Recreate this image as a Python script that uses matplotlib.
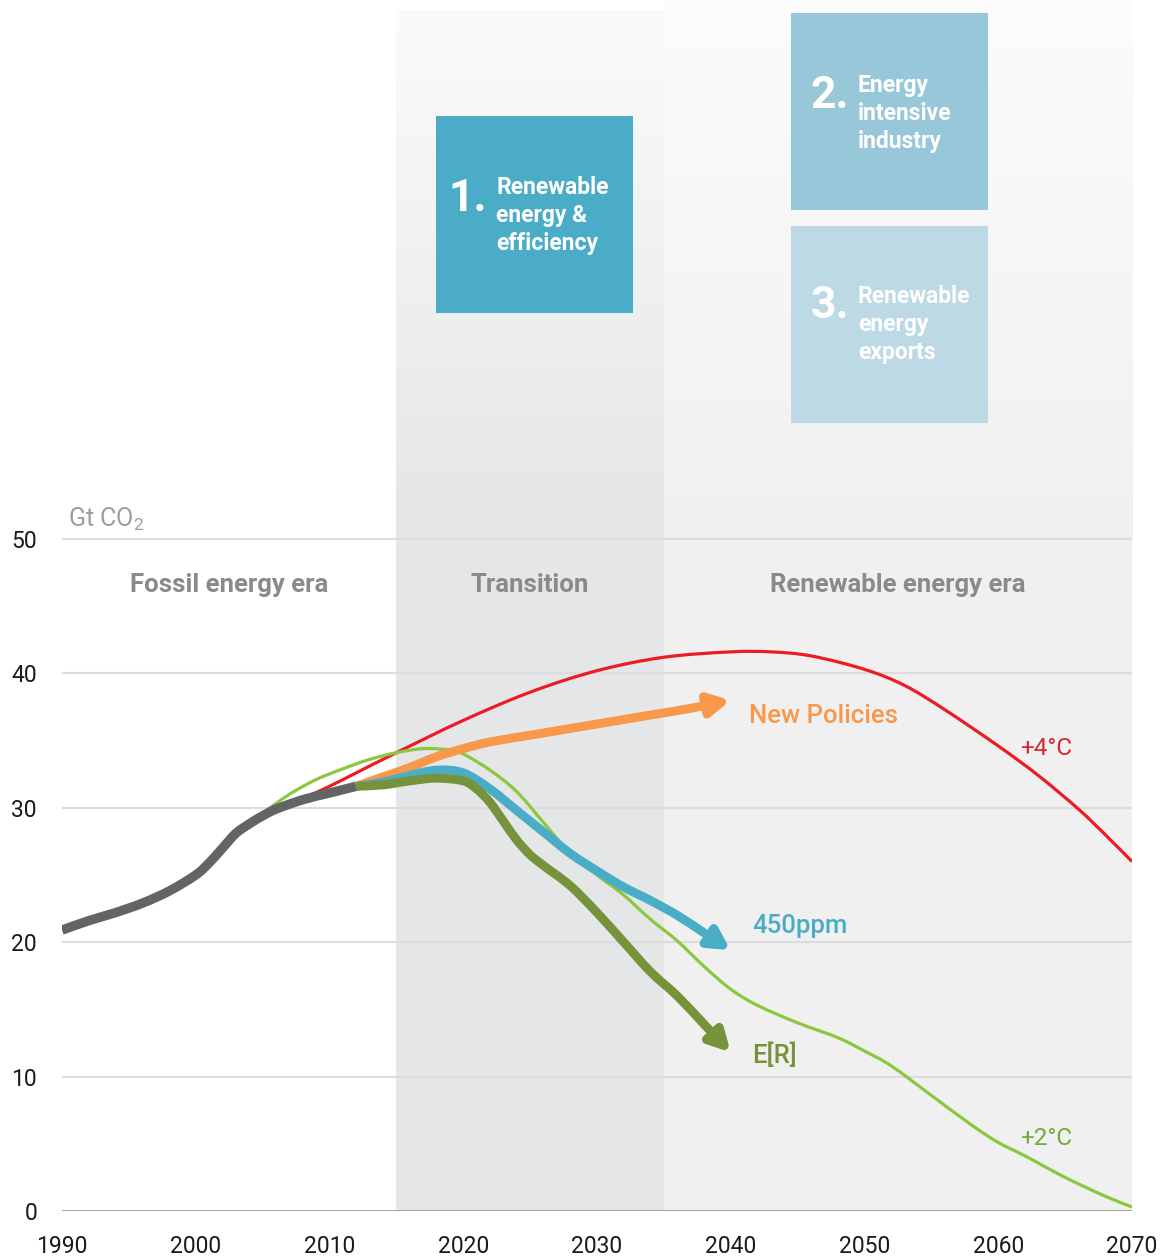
import numpy as np
import matplotlib.pyplot as plt
from matplotlib.colors import LinearSegmentedColormap
from matplotlib.patches import FancyArrowPatch, PathPatch, Rectangle
from matplotlib.path import Path

plt.rcParams["font.family"] = ["Roboto", "DejaVu Sans"]
plt.rcParams["mathtext.fontset"] = "custom"
plt.rcParams["mathtext.rm"] = "Roboto"

# Historic emissions (Gt CO2)
hist_years = [1990, 1992, 1994, 1996, 1998, 2000, 2001, 2002, 2003, 2004, 2005, 2006, 2008, 2010, 2012]
hist_co2 = [20.9, 21.6, 22.2, 22.9, 23.8, 25.0, 25.9, 27.0, 28.1, 28.8, 29.4, 29.9, 30.6, 31.1, 31.6]

# +4°C pathway
plus4_years = [2000, 2002, 2004, 2006, 2008, 2010, 2012, 2015, 2020, 2025, 2030, 2035, 2040, 2043,
               2046, 2050, 2053, 2056, 2060, 2063, 2066, 2068, 2070]
plus4_co2 = [25.0, 27.2, 29.0, 30.0, 30.7, 31.6, 32.6, 34.1, 36.5, 38.6, 40.2, 41.2, 41.6, 41.6,
             41.3, 40.3, 39.1, 37.3, 34.6, 32.4, 29.9, 28.0, 26.0]

# +2°C pathway
plus2_years = [2005, 2007, 2009, 2011, 2013, 2015, 2017, 2019, 2020, 2022, 2024, 2026, 2028, 2030,
               2032, 2034, 2036, 2038, 2040, 2042, 2045, 2048, 2050, 2052, 2055, 2058, 2060, 2062,
               2065, 2068, 2070]
plus2_co2 = [29.6, 31.0, 32.1, 32.9, 33.6, 34.1, 34.4, 34.3, 34.0, 32.8, 31.2, 28.9, 26.6, 25.0,
             23.5, 21.7, 20.1, 18.2, 16.5, 15.3, 14.0, 12.9, 11.9, 10.8, 8.6, 6.4, 5.1, 4.1,
             2.5, 1.1, 0.3]

# Scenario arrows
newpol_years = [2012, 2014, 2016, 2018, 2020, 2022, 2025, 2028, 2031, 2034, 2037, 2040]
newpol_co2 = [31.6, 32.3, 33.0, 33.8, 34.4, 34.9, 35.4, 35.9, 36.4, 36.9, 37.4, 38.0]

ppm450_years = [2012, 2014, 2016, 2018, 2020, 2022, 2024, 2026, 2028, 2030, 2032, 2034, 2036, 2038, 2040]
ppm450_co2 = [31.6, 31.9, 32.4, 32.8, 32.6, 31.4, 29.8, 28.2, 26.6, 25.3, 24.1, 23.1, 22.0, 20.7, 19.4]

er_years = [2012, 2014, 2016, 2018, 2020, 2021, 2022, 2023, 2024, 2025, 2026, 2028, 2030, 2032,
            2034, 2036, 2038, 2040]
er_co2 = [31.6, 31.7, 32.0, 32.2, 32.0, 31.4, 30.4, 29.0, 27.6, 26.5, 25.7, 24.2, 22.2, 20.0,
          17.8, 16.0, 13.9, 11.8]

era_names = ["Fossil energy era", "Transition", "Renewable energy era"]
era_bounds = [1990, 2015, 2035, 2070]

y_ticks = [0, 10, 20, 30, 40, 50]
x_ticks = list(range(1990, 2071, 10))

step_numbers = ["1.", "2.", "3."]
step_texts = [["Renewable", "energy &", "efficiency"],
              ["Energy", "intensive", "industry"],
              ["Renewable", "energy", "exports"]]


def smooth_path(xs, ys):
    """Catmull-Rom curve through the points, as cubic Bezier segments."""
    pts = np.column_stack([xs, ys]).astype(float)
    ext = np.vstack([pts[0], pts, pts[-1]])
    verts = [pts[0]]
    codes = [Path.MOVETO]
    for i in range(len(pts) - 1):
        p0, p1, p2, p3 = ext[i], ext[i + 1], ext[i + 2], ext[i + 3]
        verts += [p1 + (p2 - p0) / 6, p2 - (p3 - p1) / 6, p2]
        codes += [Path.CURVE4] * 3
    return Path(verts, codes)


def curve(ax, xs, ys, color, lw, zorder):
    ax.add_patch(PathPatch(smooth_path(xs, ys), fill=False, edgecolor=color, lw=lw,
                           capstyle="butt", joinstyle="round", zorder=zorder))


def arrow_line(ax, xs, ys, color):
    arrow = FancyArrowPatch(path=smooth_path(xs, ys),
                            arrowstyle="-|>,head_length=0.6,head_width=0.32",
                            mutation_scale=20, lw=6.4, color=color,
                            joinstyle="round", capstyle="butt", zorder=5)
    ax.add_patch(arrow)


def gradient_band(ax, x0, x1, y0, y1, bottom_color, top_color):
    cmap = LinearSegmentedColormap.from_list("band", [bottom_color, top_color])
    grad = np.linspace(0, 1, 256).reshape(-1, 1)
    ax.imshow(grad, cmap=cmap, extent=(x0, x1, y0, y1), origin="lower",
              aspect="auto", interpolation="bicubic", zorder=0)


def main() -> None:
    fig = plt.figure(figsize=(11.61, 12.58), dpi=100)
    ax = fig.add_axes([62 / 1161, 47 / 1258, 1070 / 1161, 1211 / 1258])
    ymax = 90.1

    # era backgrounds: flat inside the chart, fading out above it
    ax.axvspan(era_bounds[1], era_bounds[2], 0, 50 / ymax, color="#e5e6e8", lw=0, zorder=0)
    ax.axvspan(era_bounds[2], era_bounds[3], 0, 50 / ymax, color="#f0f0f0", lw=0, zorder=0)
    gradient_band(ax, era_bounds[1], era_bounds[2], 50, 89.3, "#e4e5e7", "#fbfbfb")
    gradient_band(ax, era_bounds[2], era_bounds[3], 50, ymax, "#f0f0f0", "#fcfcfc")

    for y in y_ticks[1:]:
        ax.axhline(y, color="#dcdcdc", lw=1.5, zorder=1)
    ax.axhline(0, color="#9a9a9a", lw=2, zorder=1)

    curve(ax, plus4_years, plus4_co2, "#ed1c24", 2.3, 2)
    curve(ax, plus2_years, plus2_co2, "#8dc63f", 2.3, 2)
    curve(ax, hist_years, hist_co2, "#636466", 6.8, 3)
    arrow_line(ax, newpol_years, newpol_co2, "#f7984a")
    arrow_line(ax, ppm450_years, ppm450_co2, "#4aadc6")
    arrow_line(ax, er_years, er_co2, "#76923b")

    # series labels
    ax.text(2041.4, 36.8, "New Policies", color="#f7984a", fontsize=18.5,
            fontweight="medium", va="center", zorder=6)
    ax.text(2041.6, 21.2, "450ppm", color="#4aadc6", fontsize=18.5,
            fontweight="medium", va="center", zorder=6)
    ax.text(2041.6, 11.6, "E[R]", color="#76923b", fontsize=18.5,
            fontweight="medium", va="center", zorder=6)
    ax.text(2061.6, 34.4, "+4°C", color="#d7282f", fontsize=17.5, va="center", zorder=6)
    ax.text(2061.6, 5.4, "+2°C", color="#77a83c", fontsize=17.5, va="center", zorder=6)

    # era titles
    for name, lo, hi in zip(era_names, era_bounds[:-1], era_bounds[1:]):
        ax.text((lo + hi) / 2, 46.6, name, color="#8a8a8a", fontsize=18.5,
                fontweight="bold", ha="center", va="center", zorder=6)

    ax.text(1990.45, 50.9, r"Gt CO$_\mathrm{2}$", color="#9d9d9d", fontsize=18,
            va="baseline", zorder=6)

    # numbered boxes above the chart
    box_w, box_h = 14.73, 14.66
    box_pos = [(2017.96, 66.82), (2044.5, 74.48), (2044.5, 58.6)]
    box_colors = ["#4aacc6", "#98c7d9", "#bcd9e5"]
    num_offsets = [(0.9, 7.58), (1.5, 7.59), (1.5, 7.84)]
    text_offsets = [(4.49, 8.88), (5.0, 8.78), (5.0, 8.96)]
    for i in range(3):
        bx, by = box_pos[i]
        ax.add_patch(Rectangle((bx, by), box_w, box_h, facecolor=box_colors[i],
                               edgecolor="none", zorder=4))
        ax.text(bx + num_offsets[i][0], by + num_offsets[i][1], step_numbers[i],
                color="white", fontsize=32, fontweight="bold", va="baseline", zorder=5)
        for j, line in enumerate(step_texts[i]):
            ax.text(bx + text_offsets[i][0], by + text_offsets[i][1] - 2.083 * j, line,
                    color="white", fontsize=16.5, fontweight="bold", va="baseline", zorder=5)

    ax.set_xlim(1990, 2070)
    ax.set_ylim(0, ymax)
    ax.set_xticks(x_ticks)
    ax.set_yticks(y_ticks)
    ax.tick_params(length=0, labelsize=16.5, labelcolor="#1a1a1a")
    ax.tick_params(axis="y", pad=18)
    ax.tick_params(axis="x", pad=17)
    for spine in ax.spines.values():
        spine.set_visible(False)

    fig.savefig("out.png", dpi=100)


if __name__ == "__main__":
    main()
